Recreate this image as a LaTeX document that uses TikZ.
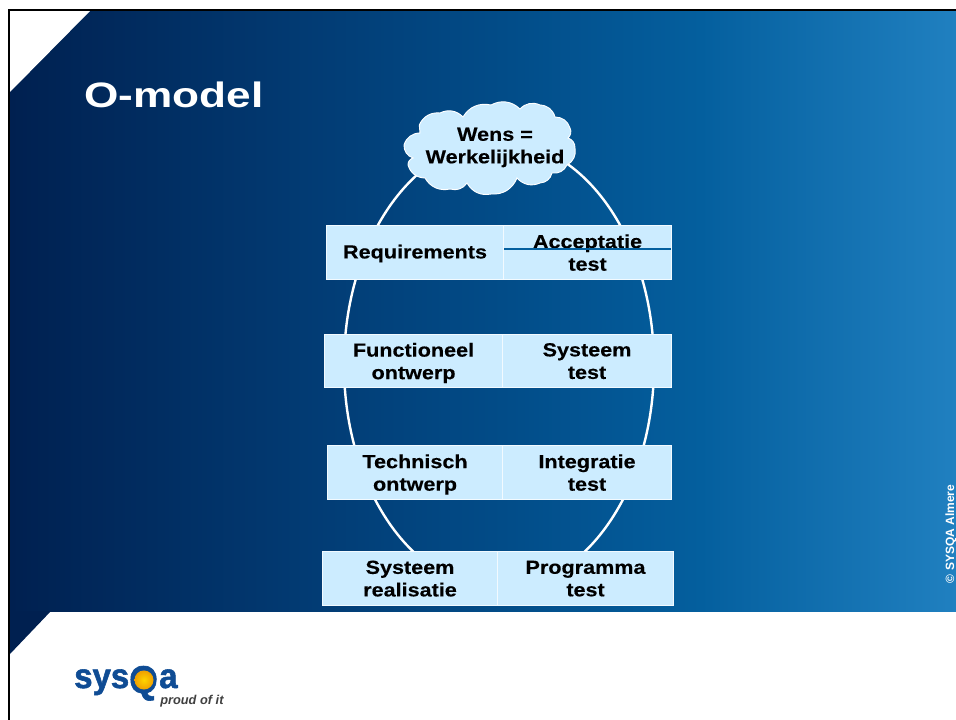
\documentclass[tikz,border=0pt]{standalone}
\usepackage{fontspec}
\setmainfont{Liberation Sans}
\newfontfamily\widefont[FakeStretch=1.14,FakeBold=0.3]{Liberation Sans}
\newfontfamily\titlefont[FakeStretch=1.25]{Liberation Sans}
\newfontfamily\logofont[FakeStretch=0.95,FakeBold=1.6]{Liberation Sans}
\usetikzlibrary{shapes.geometric}
\definecolor{bgA}{HTML}{002050}
\definecolor{bgB}{HTML}{023A72}
\definecolor{bgC}{HTML}{024C88}
\definecolor{bgD}{HTML}{045F9E}
\definecolor{bgE}{HTML}{2080C0}
\definecolor{cellfill}{HTML}{CCECFF}
\definecolor{logoblue}{HTML}{0F4C94}
\definecolor{sunA}{HTML}{FFD400}
\definecolor{sunB}{HTML}{F0A000}
\pgfdeclarehorizontalshading{slidebg}{100bp}{color(0bp)=(bgA); color(25bp)=(bgA); color(40bp)=(bgB); color(51bp)=(bgC); color(61.5bp)=(bgD); color(75bp)=(bgE); color(100bp)=(bgE)}
\tikzset{
  px/.style={x=0.75pt,y=-0.75pt},
  cell/.style={draw=white!75!cellfill,line width=0.8pt,fill=cellfill,inner sep=0pt,anchor=north west,
    font=\widefont\bfseries\fontsize{14.2}{16.9}\selectfont,align=center,text=black,text depth=-1.5pt},
  celllabel/.style={inner sep=0pt,font=\widefont\bfseries\fontsize{14.2}{16.9}\selectfont,align=center,text=black},
  loop/.style={draw=white,line width=1.8pt},
  puff/.style={bend left=36},
  logotext/.style={anchor=base west,inner sep=0pt,text=logoblue,font=\logofont\bfseries\fontsize{26}{30}\selectfont}
}
\begin{document}
\begin{tikzpicture}[px]
\useasboundingbox (0,0) rectangle (956,720);
\fill[white] (0,0) rectangle (956,720);
% slide background
\shade[shading=slidebg] (10,11) rectangle (956,611);
\fill[white] (10,11) -- (90,11) -- (10,92) -- cycle;
\fill[bgA] (10,611) -- (51,611) -- (10,654) -- cycle;
\draw[black,line width=1.6pt] (9,720) -- (9,10) -- (956,10);
% title
\node[inner sep=0pt,anchor=base west,text=white,font=\titlefont\bfseries\fontsize{26.5}{30}\selectfont] (title) at (84,108) {O-model};
% loop
\draw[loop] (499,365) ellipse [x radius=155,y radius=224];
% cloud
\path[fill=cellfill,draw=white,line width=0.7pt]
 (419.3,125) to[puff] (440,113) to[puff] (463,117) to[puff] (491,105) to[puff] (520,109)
 to[puff] (540,105) to[puff] (555,117) to[puff] (570,128) to[puff] (568,138) to[puff] (575,148)
 to[puff] (567,165) to[puff] (552,173) to[puff] (540,183) to[puff] (517,178) to[puff] (491,194)
 to[puff] (467,183) to[puff] (450,189) to[puff] (425,178) to[puff] (408,165) to[puff] (413,158)
 to[puff] (404,145) to[puff] (420,133) -- cycle;
\node[celllabel] (wish) at (495,147.5) {Wens =\\Werkelijkheid};
% rows
\node[cell,minimum width=177*0.75pt,minimum height=54*0.75pt,text depth=1.4pt] (r1l) at (326,225) {Requirements};
\node[cell,minimum width=168*0.75pt,minimum height=54*0.75pt] (r1r) at (503,225) {Acceptatie\\test};
\draw[draw=bgD,line width=0.8pt] ([xshift=1pt,yshift=-24*0.75pt]r1r.north west) -- ([xshift=-1pt,yshift=-24*0.75pt]r1r.north east);
\node[cell,minimum width=178*0.75pt,minimum height=53*0.75pt] (r2l) at (324,334) {Functioneel\\ontwerp};
\node[cell,minimum width=169*0.75pt,minimum height=53*0.75pt] (r2r) at (502,334) {Systeem\\test};
\node[cell,minimum width=175*0.75pt,minimum height=54*0.75pt] (r3l) at (327,445) {Technisch\\ontwerp};
\node[cell,minimum width=169*0.75pt,minimum height=54*0.75pt] (r3r) at (502,445) {Integratie\\test};
\node[cell,minimum width=175*0.75pt,minimum height=54*0.75pt] (r4l) at (322,551) {Systeem\\realisatie};
\node[cell,minimum width=176*0.75pt,minimum height=54*0.75pt] (r4r) at (497,551) {Programma\\test};
% copyright
\node[rotate=90,inner sep=0pt,text=white,font=\bfseries\fontsize{9}{10}\selectfont] (copy) at (951,534) {© SYSQA Almere};
% logo
\node[logotext] (logosys) at (74,688) {sys};
\node[anchor=base west,inner sep=0pt,text=logoblue,font=\logofont\bfseries\fontsize{29}{30}\selectfont] (logoq) at (129,693) {Q};
\shade[inner color=sunA,outer color=sunB] (144,680) circle [radius=9.5];
\node[logotext] (logoa) at (159,688) {a};
\node[anchor=base west,inner sep=0pt,text=black!75,font=\bfseries\itshape\fontsize{9.6}{11}\selectfont] (logotag) at (160,704) {proud of it};
\end{tikzpicture}
\end{document}
